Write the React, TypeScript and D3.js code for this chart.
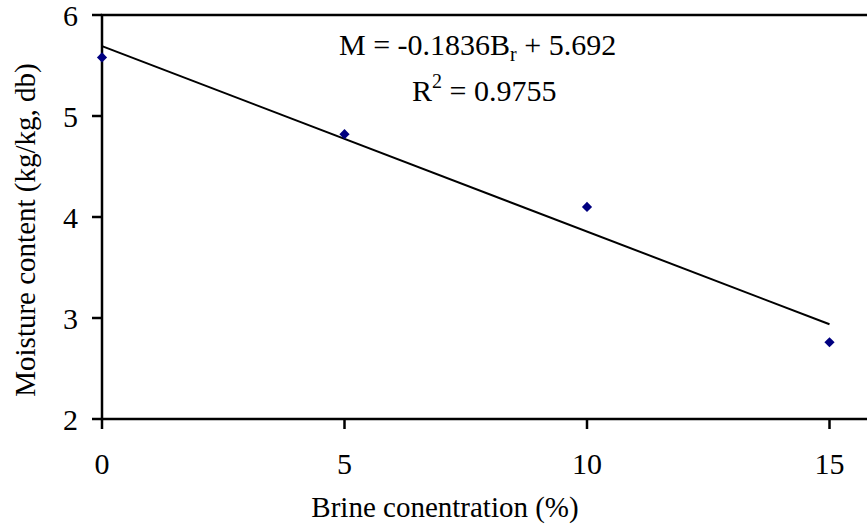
import React from "react";
import * as d3 from "d3";

const brine = [0, 5, 10, 15];
const moisture = [5.58, 4.82, 4.1, 2.76];
const xTicks = [0, 5, 10, 15];
const yTicks = [2, 3, 4, 5, 6];
const slope = -0.1836;
const intercept = 5.692;

const W = 867;
const H = 528;
const FONT = "'Liberation Serif', 'Times New Roman', serif";

const App = () => {
  const margin = { left: 102, top: 15 };
  const x = d3.scaleLinear().domain([0, 16]).range([margin.left, margin.left + 16 * 48.5]);
  const y = d3.scaleLinear().domain([2, 6]).range([419, margin.top]);

  const points = brine.map((b, i) => ({ b, m: moisture[i] }));
  const trend = d3.line<number>().x(d => x(d)).y(d => y(slope * d + intercept));
  const diamond = d3.symbol().type(d3.symbolSquare).size(52)();

  const [x0, x1] = x.range();
  const [y0, y1] = y.range();

  return (
    <svg width={W} height={H} style={{ position: "absolute", left: 0, top: 0, background: "#fff" }} fontFamily={FONT}>
      {/* frame */}
      <rect x={x0} y={y1} width={x1 - x0} height={y0 - y1} fill="none" stroke="#000" strokeWidth={2.5} />

      {/* y ticks */}
      {yTicks.map(t => (
        <g key={"y" + t}>
          <line x1={x0 - 10} x2={x0} y1={y(t)} y2={y(t)} stroke="#000" strokeWidth={2.5} />
          <text x={x0 - 24} y={y(t)} dy="0.35em" textAnchor="end" fontSize={30}>{t}</text>
        </g>
      ))}

      {/* x ticks */}
      {xTicks.map(t => (
        <g key={"x" + t}>
          <line x1={x(t)} x2={x(t)} y1={y0} y2={y0 + 10} stroke="#000" strokeWidth={2.5} />
          <text x={x(t)} y={y0 + 55} textAnchor="middle" fontSize={30}>{t}</text>
        </g>
      ))}

      {/* trend line */}
      <path d={trend([0, 15]) || ""} fill="none" stroke="#000" strokeWidth={2} />

      {/* points */}
      {points.map(p => (
        <path key={p.b} d={diamond || ""} transform={`translate(${x(p.b)},${y(p.m)}) rotate(45)`} fill="#000080" />
      ))}

      {/* equation */}
      <text x={339} y={55} fontSize={30}>
        M = -0.1836B<tspan fontSize={20} dy={6}>r</tspan><tspan dy={-6}> + 5.692</tspan>
      </text>
      <text x={412} y={101} fontSize={30}>
        R<tspan fontSize={20} dy={-13}>2</tspan><tspan dy={13}> = 0.9755</tspan>
      </text>

      {/* axis titles */}
      <text x={445} y={517} textAnchor="middle" fontSize={29}>Brine conentration (%)</text>
      <text transform={`translate(35,230) rotate(-90)`} textAnchor="middle" fontSize={29}>
        Moisture content (kg/kg, db)
      </text>
    </svg>
  );
};

export default App;
